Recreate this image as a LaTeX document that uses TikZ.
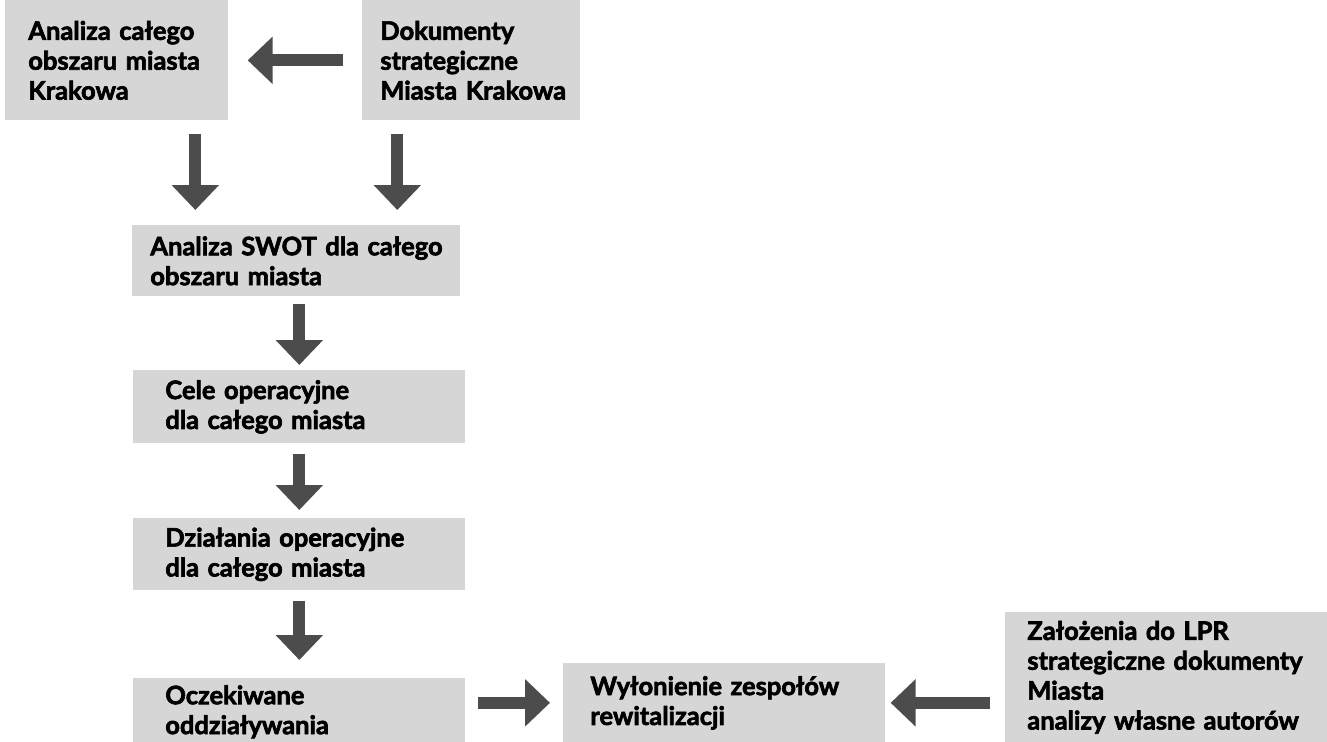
\documentclass[tikz,border=0pt]{standalone}
\usepackage{fontspec}
\setmainfont{Lato}[BoldFeatures={FakeBold=2.5}]
\usetikzlibrary{arrows.meta}
\definecolor{boxgray}{gray}{0.84}
\definecolor{arrowgray}{gray}{0.3}
\hyphenpenalty=10000

\begin{document}
\begin{tikzpicture}[x=0.02cm, y=-0.02cm,
  box/.style={fill=boxgray, anchor=north west, align=left, inner ysep=0pt,
    font=\bfseries\fontsize{14.5}{17}\selectfont},
  flow/.style={draw=arrowgray, line width=0.24cm, -{Triangle[width=0.92cm, length=0.5cm]}}]
\useasboundingbox (0,0) rectangle (1327,742);
% boxes
\node[box, inner xsep=0.46cm, text width=3.54cm, minimum height=2.4cm] (krak) at (5,0) {Analiza~całego\\ obszaru~miasta\\ Krakowa};
\node[box, inner xsep=0.36cm, text width=3.64cm, minimum height=2.4cm] (dok) at (362,0) {Dokumenty\\ strategiczne\\ Miasta~Krakowa};
\node[box, inner xsep=0.36cm, text width=5.84cm, minimum height=1.42cm] (swot) at (132,225) {Analiza~SWOT~dla~całego\\ obszaru~miasta};
\node[box, inner xsep=0.64cm, text width=5.36cm, minimum height=1.46cm] (cele) at (133,370) {Cele~operacyjne\\ dla~całego~miasta};
\node[box, inner xsep=0.64cm, text width=5.36cm, minimum height=1.44cm] (dzial) at (133,518) {Działania~operacyjne\\ dla~całego~miasta};
\node[box, inner xsep=0.64cm, text width=5.36cm, minimum height=1.34cm] (oczek) at (133,678) {Oczekiwane\\ oddziaływania};
\node[box, inner xsep=0.54cm, text width=5.36cm, minimum height=1.58cm] (wylon) at (563,663) {Wyłonienie~zespołów\\ rewitalizacji};
\node[box, inner xsep=0.44cm, text width=5.56cm, minimum height=2.6cm] (zal) at (1005,612) {Założenia~do~LPR\\ strategiczne~dokumenty\\ Miasta\\ analizy~własne~autorów};
% arrows
\draw[flow, shorten <=0.38cm, shorten >=0.38cm] (dok.west) -- (dok.west -| krak.east);
\draw[flow, shorten <=0.26cm, shorten >=0.3cm] ([xshift=-2.02cm]swot.north |- krak.south) -- ([xshift=-2.02cm]swot.north);
\draw[flow, shorten <=0.26cm, shorten >=0.3cm] ([xshift=2.02cm]swot.north |- dok.south) -- ([xshift=2.02cm]swot.north);
\draw[flow, shorten <=0.14cm, shorten >=0.1cm] (swot.south -| cele.north) -- (cele.north);
\draw[flow, shorten <=0.2cm, shorten >=0.16cm] (cele.south) -- (dzial.north);
\draw[flow, shorten <=0.2cm, shorten >=0.36cm] (dzial.south) -- (oczek.north);
\draw[flow, shorten <=0.24cm, shorten >=0.26cm] (wylon.west -| oczek.east) -- (wylon.west);
\draw[flow, shorten <=0.3cm, shorten >=0.1cm] (wylon.east -| zal.west) -- (wylon.east);
\end{tikzpicture}
\end{document}
